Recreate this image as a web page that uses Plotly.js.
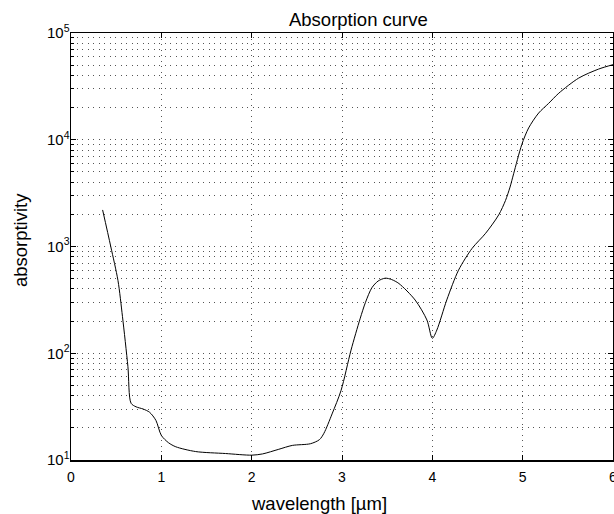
<!DOCTYPE html>
<html>
<head>
<meta charset="utf-8">
<script src="https://cdn.plot.ly/plotly-3.0.1.min.js"></script>
<style>html,body{margin:0;padding:0;background:#fff;}#chart{width:614px;height:514px;}</style>
</head>
<body>
<div id="chart"></div>
<script>
var wavelength = [0.35,0.44,0.52,0.57,0.63,0.665,0.72,0.8,0.87,0.94,1.0,1.08,1.16,1.38,1.71,2.0,2.12,2.3,2.45,2.65,2.75,2.8,2.89,2.99,3.1,3.2,3.26,3.33,3.4,3.48,3.55,3.63,3.81,3.94,4.0,4.05,4.16,4.29,4.44,4.59,4.735,4.81,4.86,4.9,4.99,5.066,5.177,5.287,5.4,5.62,5.84,6.0];
var absorptivity = [2200,1000,480,220,75,34,31.5,30,28,23.5,17,14.5,13.3,12,11.5,11.1,11.4,12.6,13.7,14.2,15.5,17.8,27,45,107,210,300,410,475,505,490,450,315,205,138,165,316,600,960,1330,1980,2700,3600,4800,9000,12900,17800,21900,27300,37800,45900,50500];
var xTicks = [0,1,2,3,4,5,6];
var yTickVals = [10,100,1000,10000,100000];
var yTickText = ['10<sup>1</sup>','10<sup>2</sup>','10<sup>3</sup>','10<sup>4</sup>','10<sup>5</sup>'];
var titleText = 'Absorption curve';
var xTitle = 'wavelength [µm]';
var yTitle = 'absorptivity';

var fontFam = 'Liberation Sans, Arial, sans-serif';
var gridDash = '1px,4.5px';
var gridCol = '#555';
var trace = {x: wavelength, y: absorptivity, mode: 'lines', type: 'scatter',
  line: {color: '#000', width: 1, shape: 'spline', smoothing: 0.8}, hoverinfo: 'skip'};
var layout = {
  width: 614, height: 514,
  margin: {l: 71, r: 1, t: 33, b: 54},
  paper_bgcolor: '#fff', plot_bgcolor: '#fff',
  showlegend: false,
  font: {family: fontFam, size: 14, color: '#000'},
  title: {text: titleText, font: {family: fontFam, size: 18.5, color: '#000'},
          x: 0.4022, xanchor: 'left', xref: 'paper', y: 1, yref: 'paper', yanchor: 'bottom', pad: {b: 7}},
  xaxis: {range: [0, 6], tickmode: 'array', tickvals: xTicks, ticktext: xTicks.map(String),
    ticks: 'inside', ticklen: 5, tickcolor: '#000', showline: true, linecolor: '#000', linewidth: 1.5,
    mirror: 'ticks', showgrid: true, gridcolor: gridCol, griddash: gridDash, gridwidth: 1, zeroline: false,
    ticklabeloverflow: 'allow', ticklabelstandoff: 4,
    tickfont: {size: 14}},
  yaxis: {type: 'log', range: [1, 5], tickmode: 'array', tickvals: yTickVals, ticktext: yTickText,
    ticks: 'inside', ticklen: 5, tickcolor: '#000', showline: true, linecolor: '#000', linewidth: 1.5,
    mirror: 'ticks', showgrid: true, gridcolor: gridCol, griddash: gridDash, gridwidth: 1, zeroline: false,
    ticklabelstandoff: -3,
    tickfont: {size: 15},
    minor: {dtick: 'D1', ticks: 'inside', ticklen: 3, tickcolor: '#000', showgrid: true, gridcolor: gridCol, griddash: gridDash, gridwidth: 1}},
  annotations: [
    {text: xTitle, xref: 'paper', yref: 'paper', x: 0.4576, y: -0.103, xanchor: 'center', yanchor: 'middle',
     showarrow: false, font: {size: 18.5, color: '#000'}},
    {text: yTitle, xref: 'paper', yref: 'paper', x: -0.0941, y: 0.515, xanchor: 'center', yanchor: 'middle',
     textangle: -90, showarrow: false, font: {size: 18.5, color: '#000'}}
  ]
};
Plotly.newPlot('chart', [trace], layout, {displayModeBar: false, staticPlot: true});
</script>
</body>
</html>
